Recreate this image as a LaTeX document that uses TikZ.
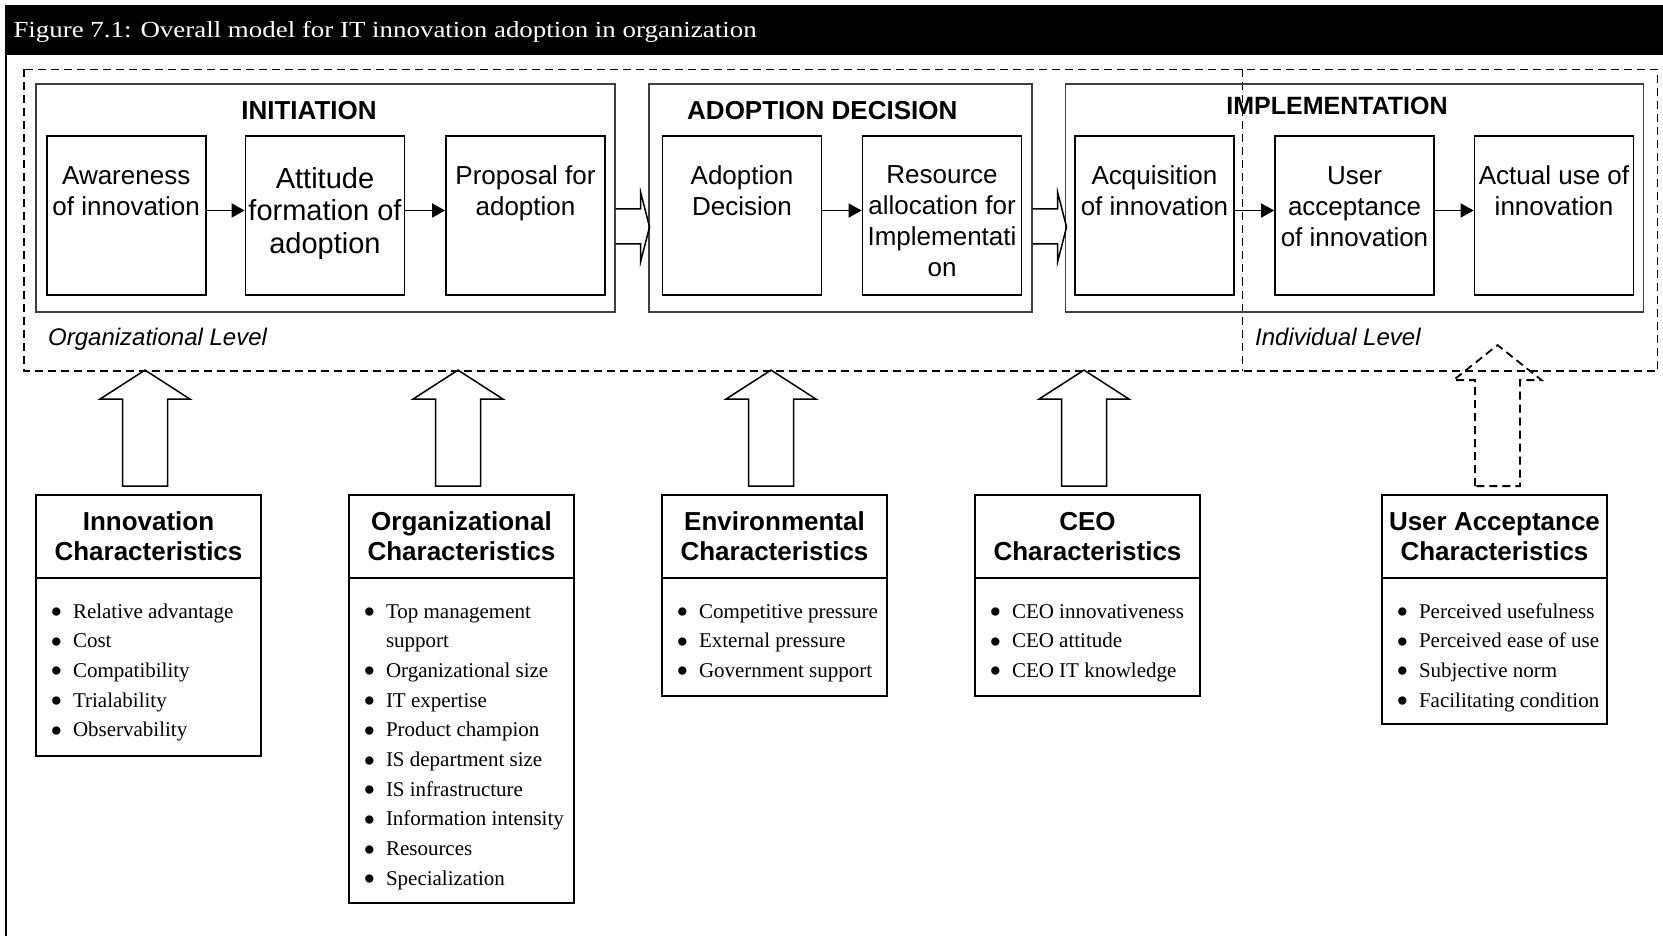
\documentclass[tikz,border=0pt]{standalone}
\usepackage{fontspec}
\usepackage{graphicx}
\setmainfont{Liberation Serif}
\newfontfamily\arialfont{Liberation Sans}
\newfontfamily\captionfont{Liberation Serif}[FakeStretch=1.17]
\usetikzlibrary{arrows.meta,calc}

% bullet and hanging indent for the characteristic lists
\newcommand{\bul}{\makebox[21.7pt][l]{\hspace*{-1pt}\raisebox{-5.5pt}[0pt][0pt]{\scalebox{1.65}{\textbullet}}}}
\newcommand{\hang}{\hspace*{21.7pt}}

\begin{document}
\begin{tikzpicture}[x=1pt,y=-1pt,
  stage/.style={draw=black!75, line width=1.1pt, inner sep=0pt, rectangle},
  actbox/.style={draw, line width=1.8pt, minimum width=159pt, minimum height=159pt, inner sep=0pt},
  acttext/.style={anchor=base, inner sep=0pt, font=\arialfont\fontsize{26}{30.7}\selectfont},
  phasehdr/.style={anchor=base, inner sep=0pt, font=\arialfont\bfseries\fontsize{26}{30}\selectfont},
  lvl/.style={anchor=base west, inner sep=0pt, font=\arialfont\itshape\fontsize{24}{28}\selectfont},
  charbox/.style={draw, line width=1.8pt, minimum width=225pt, inner sep=0pt},
  boxline/.style={line width=1.8pt},
  charhdr/.style={anchor=base, inner sep=0pt, font=\arialfont\bfseries\fontsize{26}{30}\selectfont},
  charlist/.style={anchor=base west, inner sep=0pt, font=\fontsize{21}{29.7}\selectfont},
  flow/.style={line width=1.8pt, -{Triangle[length=13pt,width=14pt]}},
  dashedline/.style={line width=1.8pt, dash pattern=on 8pt off 5pt},
  blockarrow/.style={line width=1.5pt},
  rightarrow/.pic={\draw[pic actions] (0,-17.5) -- (25,-17.5) -- (25,-34.5) -- (34,0.5)
      -- (25,35.5) -- (25,17.5) -- (0,17.5);},
  uparrow/.pic={\draw[pic actions] (-22.5,0) -- (-22.5,-87) -- (-45,-87) -- (0,-116)
      -- (45,-87) -- (22.5,-87) -- (22.5,0) -- cycle;},
  dashuparrow/.pic={\draw[pic actions] (-22.5,0) -- (-22.5,-106) -- (-44,-106) -- (0,-141)
      -- (44,-106) -- (22.5,-106) -- (22.5,0) -- cycle;},
]
\useasboundingbox (0,0) rectangle (1663,936);

% caption band and left rule
\fill (5,5) rectangle (1663,55);
\node[anchor=base west, inner sep=0pt, text=white,
      font=\captionfont\fontsize{23}{26}\selectfont] (caption) at (13.3,38)
  {Figure 7.1: Overall model for IT innovation adoption in organization};
\draw[line width=2pt] (6,55) -- (6,936);

% organizational / individual level frame
\draw[dashedline] (24,69.5) rectangle (1657.5,371);
\draw[dashedline] (1242.5,69.5) -- (1242.5,371);
\node[lvl] (orglevel) at (48,345) {Organizational Level};
\node[lvl] (indlevel) at (1255,345) {Individual Level};

% the three stages
\node[stage, minimum width=579pt, minimum height=228pt] (init) at (325.5,198) {};
\node[stage, minimum width=383pt, minimum height=228pt] (adop) at (840.5,198) {};
\node[stage, minimum width=577.5pt, minimum height=228pt] (impl) at (1354.4,198) {};
\node[phasehdr] (initt) at (309,120) {INITIATION};
\node[phasehdr, anchor=base west] (adopt) at (687,120) {ADOPTION DECISION};
\node[phasehdr, font=\arialfont\bfseries\fontsize{25}{30}\selectfont] (implt) at (1337,115) {IMPLEMENTATION};

% activities
\node[actbox] (aw) at (126.2,215.5) {};
\node[actbox] (at) at (325,215.5) {};
\node[actbox] (pr) at (525.5,215.5) {};
\node[actbox] (ad) at (742,215.5) {};
\node[actbox] (rs) at (942,215.5) {};
\node[actbox] (aq) at (1154.5,215.5) {};
\node[actbox] (ua) at (1354.5,215.5) {};
\node[actbox] (au) at (1554,215.5) {};

\node[acttext] (awt) at (aw.north |- 0,185) {\parbox[t]{160pt}{\centering Awareness\\of innovation}};
\node[acttext, font=\arialfont\fontsize{29}{32.5}\selectfont] (att) at (at.north |- 0,188.5)
  {\parbox[t]{160pt}{\centering Attitude\\formation of\\adoption}};
\node[acttext] (prt) at (pr.north |- 0,185) {\parbox[t]{160pt}{\centering Proposal for\\adoption}};
\node[acttext] (adt) at (ad.north |- 0,185) {\parbox[t]{160pt}{\centering Adoption\\Decision}};
\node[acttext] (rst) at (rs.north |- 0,184) {\parbox[t]{160pt}{\centering Resource\\allocation for\\Implementati\\on}};
\node[acttext] (aqt) at (aq.north |- 0,185) {\parbox[t]{160pt}{\centering Acquisition\\of innovation}};
\node[acttext] (uat) at (ua.north |- 0,185) {\parbox[t]{160pt}{\centering User\\acceptance\\of innovation}};
\node[acttext] (aut) at (au.north |- 0,185) {\parbox[t]{160pt}{\centering Actual use of\\innovation}};

% flow between activities
\draw[flow] (aw.east |- 0,210.5) -- (at.west |- 0,210.5);
\draw[flow] (at.east |- 0,210.5) -- (pr.west |- 0,210.5);
\draw[flow] (ad.east |- 0,210.5) -- (rs.west |- 0,210.5);
\draw[flow] (aq.east |- 0,210.5) -- (ua.west |- 0,210.5);
\draw[flow] (ua.east |- 0,210.5) -- (au.west |- 0,210.5);

% flow between stages
\pic[blockarrow] (s1) at ($(init.east)+(0,28.5)$) {rightarrow};
\pic[blockarrow] (s2) at ($(adop.east)+(0,28.5)$) {rightarrow};

% characteristic boxes
\node[charbox, minimum height=261pt] (inn) at (148.5,625.5) {};
\node[charbox, minimum height=408pt] (org) at (461.5,699) {};
\node[charbox, minimum height=201pt] (env) at (774.5,595.5) {};
\node[charbox, minimum height=201pt] (ceo) at (1087.5,595.5) {};
\node[charbox, minimum height=229pt] (uac) at (1494.5,609.5) {};

\foreach \b in {inn,org,env,ceo,uac}
  \draw[boxline] (\b.west |- 0,578) -- (\b.east |- 0,578);

\node[charhdr] (innh) at (inn.north |- 0,530) {\parbox[t]{225pt}{\centering Innovation\\Characteristics}};
\node[charhdr] (orgh) at (org.north |- 0,530) {\parbox[t]{225pt}{\centering Organizational\\Characteristics}};
\node[charhdr] (envh) at (env.north |- 0,530) {\parbox[t]{225pt}{\centering Environmental\\Characteristics}};
\node[charhdr] (ceoh) at (ceo.north |- 0,530) {\parbox[t]{225pt}{\centering CEO\\Characteristics}};
\node[charhdr] (uach) at (uac.north |- 0,530) {\parbox[t]{225pt}{\centering User Acceptance\\Characteristics}};

\node[charlist] (innl) at ($(inn.west |- 0,618)+(16,0)$) {\parbox[t]{230pt}{\raggedright
  \bul Relative advantage\\ \bul Cost\\ \bul Compatibility\\ \bul Trialability\\ \bul Observability}};
\node[charlist] (orgl) at ($(org.west |- 0,618)+(16,0)$) {\parbox[t]{230pt}{\raggedright
  \bul Top management\\ \hang support\\ \bul Organizational size\\ \bul IT expertise\\
  \bul Product champion\\ \bul IS department size\\ \bul IS infrastructure\\
  \bul Information intensity\\ \bul Resources\\ \bul Specialization}};
\node[charlist] (envl) at ($(env.west |- 0,618)+(16,0)$) {\parbox[t]{230pt}{\raggedright
  \bul Competitive pressure\\ \bul External pressure\\ \bul Government support}};
\node[charlist] (ceol) at ($(ceo.west |- 0,618)+(16,0)$) {\parbox[t]{230pt}{\raggedright
  \bul CEO innovativeness\\ \bul CEO attitude\\ \bul CEO IT knowledge}};
\node[charlist] (uacl) at ($(uac.west |- 0,618)+(16,0)$) {\parbox[t]{230pt}{\raggedright
  \bul Perceived usefulness\\ \bul Perceived ease of use\\ \bul Subjective norm\\ \bul Facilitating condition}};

% influences on the adoption process
\pic[blockarrow] (i1) at ($(inn.north)+(-3.5,-8)$) {uparrow};
\pic[blockarrow] (i2) at ($(org.north)+(-3.5,-8)$) {uparrow};
\pic[blockarrow] (i3) at ($(env.north)+(-3.5,-8)$) {uparrow};
\pic[blockarrow] (i4) at ($(ceo.north)+(-3.5,-8)$) {uparrow};
\pic[dashedline] (i5) at ($(uac.north)+(3,-8)$) {dashuparrow};
\end{tikzpicture}
\end{document}
